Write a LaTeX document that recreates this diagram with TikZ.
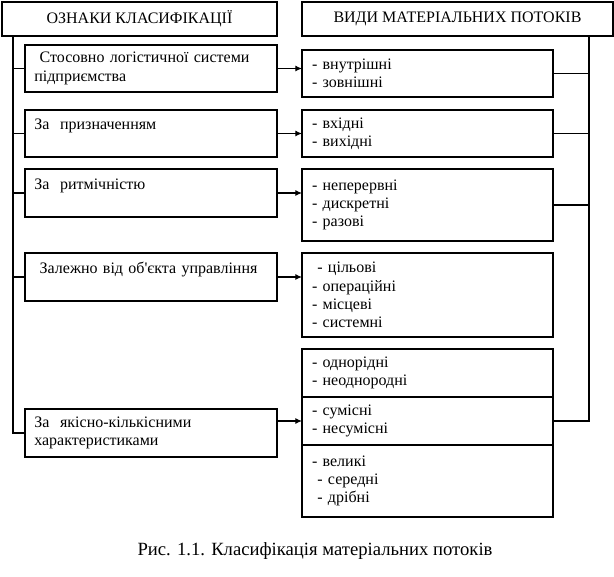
\documentclass[tikz,border=0pt]{standalone}
\usepackage{fontspec}
\setmainfont{Liberation Serif}
\usetikzlibrary{positioning,arrows.meta,calc}
\tikzset{
  head/.style={draw, line width=0.8pt, anchor=north west, outer sep=0pt,
               inner sep=0pt, minimum height=25.5pt,
               font=\fontsize{12}{14}\selectfont},
  sign/.style={draw, line width=0.8pt, anchor=north west, outer sep=0pt,
               inner xsep=7pt, inner ysep=0pt, text width=175pt, align=left,
               font=\fontsize{12}{13.8}\selectfont},
  kind/.style={draw, line width=0.8pt, anchor=north west, outer sep=0pt,
               inner xsep=7.5pt, inner ysep=0pt, text width=173.25pt, align=left,
               font=\fontsize{12}{13.8}\selectfont},
  link/.style={line width=0.8pt},
  call/.style={-{Latex[length=5pt,width=4.5pt]}, line width=0.8pt},
}

\begin{document}
\begin{tikzpicture}[x=0.75pt, y=-0.75pt]
  \useasboundingbox (0,0) rectangle (614,577);

  %% headers
  \node[head, minimum width=206.25pt] (hsign) at (2,2) {ОЗНАКИ КЛАСИФІКАЦІЇ};
  \node[head, minimum width=233.25pt] (hkind) at (302,2) {ВИДИ МАТЕРІАЛЬНИХ ПОТОКІВ};

  %% signs of classification
  \node[sign, minimum height=35.25pt] (s1) at (25,45) {\ Стосовно логістичної системи\\підприємства};
  \node[sign, minimum height=35.25pt] (s2) at (25,110) {За\ \ призначенням\\\mbox{}};
  \node[sign, minimum height=36pt] (s3) at (25,169) {За\ \ ритмічністю\\\mbox{}};
  \node[sign, minimum height=36pt] (s4) at (25,253) {\ Залежно від об\textquotesingle єкта управління\\\mbox{}};
  \node[sign, minimum height=36pt] (s5) at (25,409) {За\ \ якісно-кількісними\\характеристиками};

  %% kinds of material flows
  \node[kind, minimum height=35.25pt] (v1) at (302,50) {- внутрішні\\- зовнішні};
  \node[kind, minimum height=35.25pt] (v2) at (302,110) {- вхідні\\- вихідні};
  \node[kind, minimum height=54pt] (v3) at (302,169) {- неперервні\\- дискретні\\- разові};
  \node[kind, minimum height=63pt] (v4) at (302,253) {\ - цільові\\- операційні\\- місцеві\\- системні};
  \node[kind, minimum height=36pt] (v5a) at (302,349) {- однорідні\\- неоднородні};
  \node[kind, minimum height=36pt, below=0pt of v5a] (v5b) {- сумісні\\- несумісні};
  \node[kind, minimum height=54pt, below=0pt of v5b] (v5c) {- великі\\\ - середні\\\ - дрібні};

  %% trunks
  \coordinate (lt) at ($(hsign.south west)+(11,0)$);
  \coordinate (rt) at ($(hkind.south west)+(287,0)$);
  \draw[link] (lt) |- (s5.west);
  \draw[link] (rt) |- (v5b.east);
  \foreach \i in {1,...,3} {
    \draw[link] (v\i.east) -- (v\i.east -| rt);
  }
  \draw[link] ($(v4.east)+(0,6)$) -- ($(v4.east)+(0,6)$ -| rt);
  \foreach \i in {1,...,4} {
    \draw[link] (lt |- s\i.west) -- (s\i.west);
    \draw[call] (s\i.east) -- (s\i.east -| v\i.west);
  }
  \draw[call] (s5.east |- v5b.west) -- (v5b.west);

  \node[font=\fontsize{14}{16}\selectfont] (cap) at (315,551) {Рис. 1.1. Класифікація матеріальних потоків};
\end{tikzpicture}
\end{document}
